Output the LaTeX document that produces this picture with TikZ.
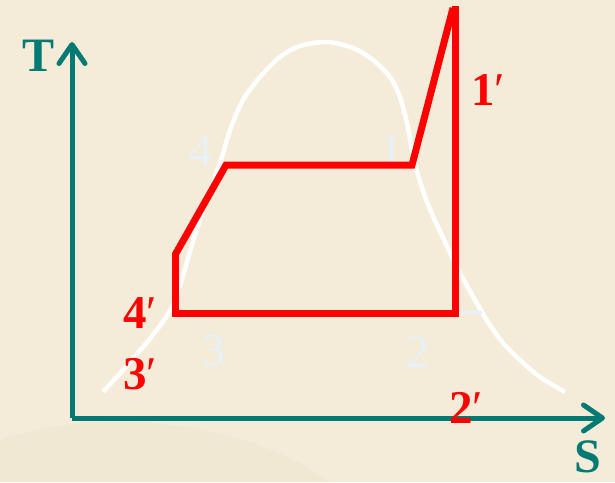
\documentclass[tikz,border=0pt]{standalone}
\usepackage{fontspec}
\setmainfont{Liberation Serif}
\usetikzlibrary{arrows.meta}
\definecolor{bgbeige}{HTML}{F4ECD9}
\definecolor{blot}{HTML}{EEE4D0}
\definecolor{axteal}{HTML}{007A72}
\definecolor{pale}{HTML}{E6F1F8}
\definecolor{cyclered}{HTML}{FF0000}
\tikzset{
  axisline/.style={draw=axteal, line width=5pt, -{Straight Barb[length=19pt,width=26pt,line width=5pt,round]}},
  axislabel/.style={text=axteal, font=\fontsize{48}{52}\selectfont\bfseries, inner sep=0pt},
  satcurve/.style={draw=white, line width=4.5pt},
  cycleline/.style={draw=cyclered, line width=7pt, line join=miter},
  statelabel/.style={text=pale, font=\fontsize{46}{50}\selectfont, inner sep=0pt},
  primelabel/.style={text=cyclered, font=\fontsize{47}{52}\selectfont\bfseries, inner sep=0pt},
}
\newcommand{\pr}{{\mdseries ′}}
\begin{document}
\begin{tikzpicture}[x=1pt,y=-1pt]
\useasboundingbox (0,0) rectangle (615,482);
\fill[bgbeige] (0,0) rectangle (615,482);
% faint watermark blotch
\fill[blot, opacity=0.45] (0,440) .. controls (120,400) and (260,430) .. (330,482) -- (0,482) -- cycle;
% axes
\coordinate (O) at (72,418);
\coordinate (Ttip) at (72,42);
\coordinate (Stip) at (605,418);
\draw[axisline] (O) -- (Ttip);
\draw[axisline] (O) -- (Stip);
\node[axislabel] (Tlab) at (39,56) {T};
\node[axislabel] (Slab) at (588,457) {S};
% saturation curve
\draw[satcurve, line cap=butt] plot[smooth, tension=0.5] coordinates {
 (103,392) (123,370) (143,347) (162,323) (174,303) (184,272) (194,238)
 (205,205) (214,180) (222,157) (230,130) (243,100) (260,77) (280,57)
 (300,46) (327,42) (353,48) (373,60) (390,77) (400,97) (407,123)
 (412,150) (418,175) (429,207) (445,242) (460,273) (475,300) (488,322)
 (503,343) (520,360) (540,377) (565,392)};
\draw[draw=pale, line width=3pt] (459,312) -- (482,312);
% state labels
\node[statelabel] (l4) at (201,151) {4};
\node[statelabel] (l1) at (391,150) {1};
\node[statelabel] (l3) at (214,350) {3};
\node[statelabel] (l2) at (418,352) {2};
% cycle points
\coordinate (p3) at (175,313.5);
\coordinate (p4p) at (175,253);
\coordinate (p4) at (226,165);
\coordinate (p1) at (412,165);
\coordinate (p1top) at (453,8);
\coordinate (p2top) at (455.5,6);
\coordinate (p2) at (455.5,313.5);
\draw[cycleline] (p2top) -- (p2) -- (p3) -- (p4p);
\draw[cycleline] ([yshift=-2pt]p4p) -- (p4) -- (p1) -- (p1top);
% primed labels
\node[primelabel] (q1) at (488,90) {1\pr};
\node[primelabel] (q4) at (140,313) {4\pr};
\node[primelabel] (q3) at (140,374) {3\pr};
\node[primelabel] (q2) at (466,408) {2\pr};
\end{tikzpicture}
\end{document}
